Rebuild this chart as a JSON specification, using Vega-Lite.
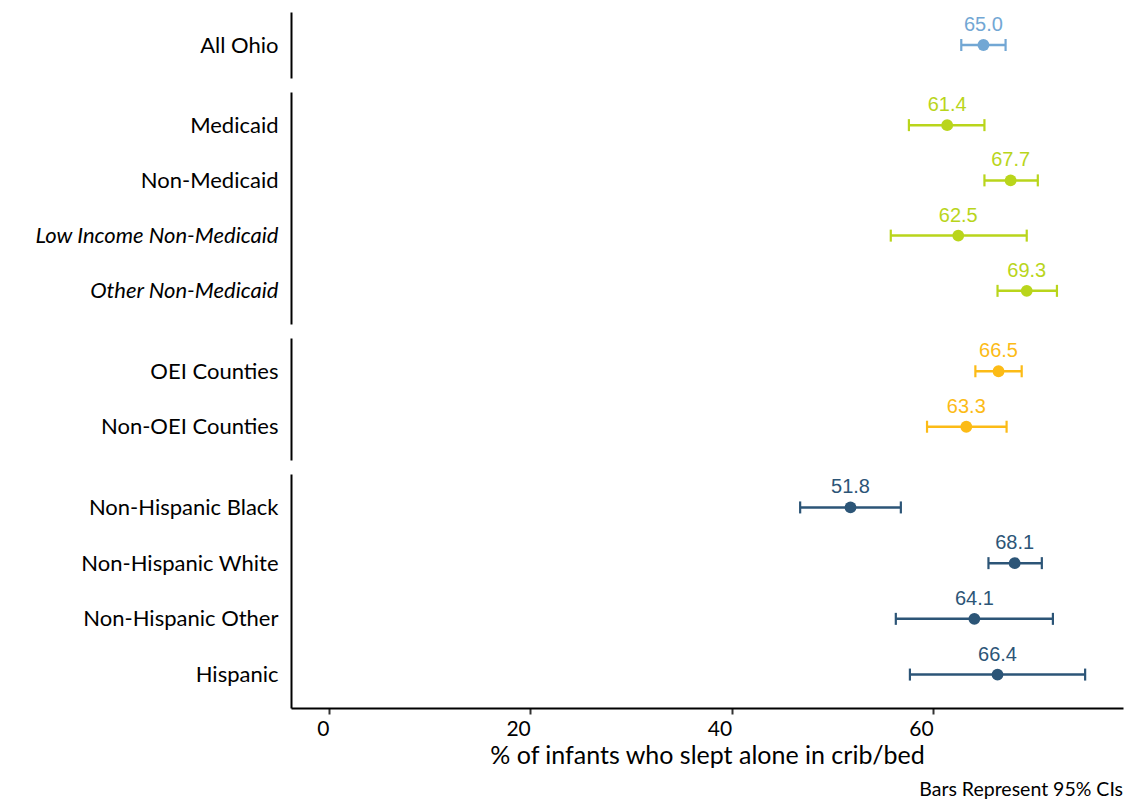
{
  "$schema": "https://vega.github.io/schema/vega-lite/v6.json",
  "padding": {"left": 8, "top": 12, "right": 4, "bottom": 5},
  "autosize": {"type": "pad"},
  "datasets": {
    "d": [
      {"group": "All", "label": "All Ohio", "est": 65.0, "lo": 62.8, "hi": 67.2},
      {"group": "Medicaid", "label": "Medicaid", "est": 61.4, "lo": 57.6, "hi": 65.1},
      {"group": "Medicaid", "label": "Non-Medicaid", "est": 67.7, "lo": 65.1, "hi": 70.4},
      {"group": "Medicaid", "label": "Low Income Non-Medicaid", "est": 62.5, "lo": 55.8, "hi": 69.3},
      {"group": "Medicaid", "label": "Other Non-Medicaid", "est": 69.3, "lo": 66.4, "hi": 72.3},
      {"group": "OEI", "label": "OEI Counties", "est": 66.5, "lo": 64.2, "hi": 68.8},
      {"group": "OEI", "label": "Non-OEI Counties", "est": 63.3, "lo": 59.4, "hi": 67.3},
      {"group": "Race", "label": "Non-Hispanic Black", "est": 51.8, "lo": 46.8, "hi": 56.8},
      {"group": "Race", "label": "Non-Hispanic White", "est": 68.1, "lo": 65.5, "hi": 70.8},
      {"group": "Race", "label": "Non-Hispanic Other", "est": 64.1, "lo": 56.3, "hi": 71.9},
      {"group": "Race", "label": "Hispanic", "est": 66.4, "lo": 57.7, "hi": 75.1}
    ]
  },
  "config": {
    "view": {"stroke": null},
    "font": "Lato",
    "axisY": {
      "domainColor": "#000000", "domainWidth": 2, "ticks": false, "grid": false,
      "labelFontSize": 22, "labelColor": "#000000", "labelPadding": 13, "labelLimit": 0,
      "minExtent": 283, "maxExtent": 283, "title": null, "labelFont": "Lato"
    },
    "axisX": {
      "domainColor": "#000000", "domainWidth": 2, "grid": false,
      "tickColor": "#333333", "tickWidth": 2, "tickSize": 6,
      "labelFontSize": 21, "labelColor": "#000000", "labelAlign": "right", "labelPadding": 4,
      "titleFontSize": 25, "titleFontWeight": "normal", "titleColor": "#000000", "titlePadding": 4, "titleFont": "Lato"
    }
  },
  "title": {"text": "Bars Represent 95% CIs", "orient": "bottom", "anchor": "end", "fontSize": 19.5, "fontWeight": "normal", "font": "Lato", "color": "#000000", "offset": 13},
  "spacing": 14,
  "resolve": {"scale": {"x": "independent", "y": "independent", "color": "independent"}},
  "vconcat": [
    {
      "width": 832, "height": 66,
      "data": {"name": "d"},
      "transform": [{"filter": "datum.group == 'All'"}],
      "encoding": {
        "y": {"field": "label", "type": "nominal", "sort": ["All Ohio"], "scale": {"type": "point", "padding": 0.6}},
        "color": {"field": "group", "type": "nominal", "scale": {"domain": ["All", "Medicaid", "OEI", "Race"], "range": ["#72a7d4", "#b9d51b", "#fcbb16", "#2c5577"]}, "legend": null}
      },
      "layer": [
        {"mark": {"type": "rule", "strokeWidth": 2.5}, "encoding": {"x": {"field": "lo", "type": "quantitative", "scale": {"domain": [-3.76, 78.86], "nice": false, "zero": false}, "axis": null}, "x2": {"field": "hi"}}},
        {"mark": {"type": "tick", "size": 12, "thickness": 2.2, "opacity": 1}, "encoding": {"x": {"field": "lo", "type": "quantitative"}}},
        {"mark": {"type": "tick", "size": 12, "thickness": 2.2, "opacity": 1}, "encoding": {"x": {"field": "hi", "type": "quantitative"}}},
        {"mark": {"type": "point", "filled": true, "size": 140, "opacity": 1}, "encoding": {"x": {"field": "est", "type": "quantitative"}}},
        {"mark": {"type": "text", "dy": -20, "fontSize": 20, "font": "Liberation Sans"}, "encoding": {"x": {"field": "est", "type": "quantitative"}, "text": {"field": "est", "type": "quantitative", "format": ".1f"}}}
      ]
    },
    {
      "width": 832, "height": 232,
      "data": {"name": "d"},
      "transform": [{"filter": "datum.group == 'Medicaid'"}],
      "encoding": {
        "y": {"field": "label", "type": "nominal", "sort": ["Medicaid", "Non-Medicaid", "Low Income Non-Medicaid", "Other Non-Medicaid"], "scale": {"type": "point", "padding": 0.6},
          "axis": {"labelFontStyle": {"condition": {"test": "datum.value == 'Low Income Non-Medicaid' || datum.value == 'Other Non-Medicaid'", "value": "italic"}, "value": "normal"}}},
        "color": {"field": "group", "type": "nominal", "scale": {"domain": ["All", "Medicaid", "OEI", "Race"], "range": ["#72a7d4", "#b9d51b", "#fcbb16", "#2c5577"]}, "legend": null}
      },
      "layer": [
        {"mark": {"type": "rule", "strokeWidth": 2.5}, "encoding": {"x": {"field": "lo", "type": "quantitative", "scale": {"domain": [-3.76, 78.86], "nice": false, "zero": false}, "axis": null}, "x2": {"field": "hi"}}},
        {"mark": {"type": "tick", "size": 12, "thickness": 2.2, "opacity": 1}, "encoding": {"x": {"field": "lo", "type": "quantitative"}}},
        {"mark": {"type": "tick", "size": 12, "thickness": 2.2, "opacity": 1}, "encoding": {"x": {"field": "hi", "type": "quantitative"}}},
        {"mark": {"type": "point", "filled": true, "size": 140, "opacity": 1}, "encoding": {"x": {"field": "est", "type": "quantitative"}}},
        {"mark": {"type": "text", "dy": -20, "fontSize": 20, "font": "Liberation Sans"}, "encoding": {"x": {"field": "est", "type": "quantitative"}, "text": {"field": "est", "type": "quantitative", "format": ".1f"}}}
      ]
    },
    {
      "width": 832, "height": 122,
      "data": {"name": "d"},
      "transform": [{"filter": "datum.group == 'OEI'"}],
      "encoding": {
        "y": {"field": "label", "type": "nominal", "sort": ["OEI Counties", "Non-OEI Counties"], "scale": {"type": "point", "padding": 0.6}},
        "color": {"field": "group", "type": "nominal", "scale": {"domain": ["All", "Medicaid", "OEI", "Race"], "range": ["#72a7d4", "#b9d51b", "#fcbb16", "#2c5577"]}, "legend": null}
      },
      "layer": [
        {"mark": {"type": "rule", "strokeWidth": 2.5}, "encoding": {"x": {"field": "lo", "type": "quantitative", "scale": {"domain": [-3.76, 78.86], "nice": false, "zero": false}, "axis": null}, "x2": {"field": "hi"}}},
        {"mark": {"type": "tick", "size": 12, "thickness": 2.2, "opacity": 1}, "encoding": {"x": {"field": "lo", "type": "quantitative"}}},
        {"mark": {"type": "tick", "size": 12, "thickness": 2.2, "opacity": 1}, "encoding": {"x": {"field": "hi", "type": "quantitative"}}},
        {"mark": {"type": "point", "filled": true, "size": 140, "opacity": 1}, "encoding": {"x": {"field": "est", "type": "quantitative"}}},
        {"mark": {"type": "text", "dy": -20, "fontSize": 20, "font": "Liberation Sans"}, "encoding": {"x": {"field": "est", "type": "quantitative"}, "text": {"field": "est", "type": "quantitative", "format": ".1f"}}}
      ]
    },
    {
      "width": 832, "height": 234,
      "data": {"name": "d"},
      "transform": [{"filter": "datum.group == 'Race'"}],
      "encoding": {
        "y": {"field": "label", "type": "nominal", "sort": ["Non-Hispanic Black", "Non-Hispanic White", "Non-Hispanic Other", "Hispanic"], "scale": {"type": "point", "padding": 0.6}},
        "color": {"field": "group", "type": "nominal", "scale": {"domain": ["All", "Medicaid", "OEI", "Race"], "range": ["#72a7d4", "#b9d51b", "#fcbb16", "#2c5577"]}, "legend": null}
      },
      "layer": [
        {"mark": {"type": "rule", "strokeWidth": 2.5}, "encoding": {"x": {"field": "lo", "type": "quantitative", "scale": {"domain": [-3.76, 78.86], "nice": false, "zero": false},
          "axis": {"values": [0, 20, 40, 60], "title": "% of infants who slept alone in crib/bed"}}, "x2": {"field": "hi"}}},
        {"mark": {"type": "tick", "size": 12, "thickness": 2.2, "opacity": 1}, "encoding": {"x": {"field": "lo", "type": "quantitative"}}},
        {"mark": {"type": "tick", "size": 12, "thickness": 2.2, "opacity": 1}, "encoding": {"x": {"field": "hi", "type": "quantitative"}}},
        {"mark": {"type": "point", "filled": true, "size": 140, "opacity": 1}, "encoding": {"x": {"field": "est", "type": "quantitative"}}},
        {"mark": {"type": "text", "dy": -20, "fontSize": 20, "font": "Liberation Sans"}, "encoding": {"x": {"field": "est", "type": "quantitative"}, "text": {"field": "est", "type": "quantitative", "format": ".1f"}}}
      ]
    }
  ]
}
